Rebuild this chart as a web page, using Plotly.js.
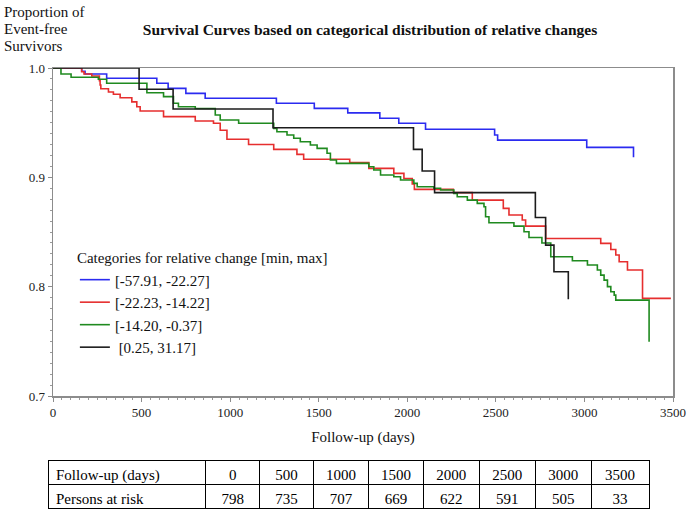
<!DOCTYPE html>
<html>
<head>
<meta charset="utf-8">
<script src="https://cdn.plot.ly/plotly-3.0.1.min.js"></script>
<style>html,body{margin:0;padding:0;background:#fff;}#chart{width:692px;height:522px;}</style>
</head>
<body>
<div id="chart"></div>
<script>
// ---- data ----
const seriesNames = ["[-57.91, -22.27]", "[-22.23, -14.22]", "[-14.20, -0.37]", "\u00a0[0.25, 31.17]"];

const blueDays = [0, 162, 181, 303, 586, 650, 750, 859, 1261, 1475, 1664, 1845, 1952, 2103, 2493, 2510, 3013, 3277];
const blueSurv = [1.0, 0.997, 0.9945, 0.9906, 0.986, 0.9814, 0.9768, 0.9723, 0.9677, 0.9631, 0.959, 0.954, 0.9494, 0.944, 0.9387, 0.934, 0.9274, 0.9183];

const redDays = [0, 162, 175, 219, 262, 266, 270, 313, 341, 379, 445, 473, 492, 624, 803, 906, 944, 982, 1104, 1246, 1377, 1415, 1675, 1783, 1924, 1981, 2028, 2040, 2260, 2367, 2542, 2574, 2649, 2668, 2781, 3092, 3149, 3177, 3196, 3243, 3328, 3488];
const redSurv = [1.0, 0.9966, 0.9945, 0.9927, 0.9884, 0.9845, 0.981, 0.978, 0.976, 0.9728, 0.969, 0.9646, 0.9607, 0.9555, 0.9515, 0.9494, 0.943, 0.9348, 0.930, 0.9256, 0.921, 0.9165, 0.9135, 0.9082, 0.9036, 0.899, 0.894, 0.889, 0.886, 0.8792, 0.8716, 0.8655, 0.861, 0.8554, 0.844, 0.8396, 0.834, 0.8289, 0.8228, 0.8152, 0.7893, 0.7893];

const greenDays = [0, 45, 102, 256, 303, 530, 624, 680, 708, 803, 916, 944, 1048, 1246, 1264, 1321, 1359, 1396, 1453, 1491, 1547, 1566, 1600, 1783, 1811, 1849, 1924, 1962, 2037, 2056, 2150, 2188, 2263, 2282, 2339, 2395, 2433, 2442, 2461, 2602, 2659, 2687, 2760, 2810, 2932, 3017, 3073, 3092, 3111, 3130, 3149, 3168, 3177, 3365];
const greenSurv = [1.0, 0.9945, 0.9915, 0.9897, 0.986, 0.9774, 0.9738, 0.9677, 0.9646, 0.963, 0.957, 0.9524, 0.9494, 0.9448, 0.9417, 0.9387, 0.9357, 0.9326, 0.9296, 0.9265, 0.922, 0.9158, 0.9128, 0.9097, 0.9067, 0.9021, 0.9006, 0.8975, 0.8945, 0.8914, 0.89, 0.8884, 0.8853, 0.8823, 0.8792, 0.8762, 0.8731, 0.864, 0.8585, 0.8554, 0.8503, 0.845, 0.840, 0.8274, 0.8237, 0.8198, 0.8152, 0.8106, 0.806, 0.80, 0.7954, 0.7923, 0.7877, 0.7496];

const blackDays = [0, 486, 678, 1242, 2035, 2084, 2154, 2723, 2781, 2828, 2909];
const blackSurv = [1.0, 0.9805, 0.9625, 0.9454, 0.9256, 0.9058, 0.886, 0.8632, 0.838, 0.8136, 0.7884];

const tableRowLabels = ["Follow-up (days)", "Persons at risk"];
const followUpDays = [0, 500, 1000, 1500, 2000, 2500, 3000, 3500];
const personsAtRisk = [798, 735, 707, 669, 622, 591, 505, 33];

const yLabelLines = ["Proportion of", "Event-free", "Survivors"];

// ---- styles ----
const SERIF = "Liberation Serif, Times New Roman, serif";
const colors = ["#2b2bf0", "#e62e2e", "#1f8a1f", "#1c1c1c"];
const xs = [blueDays, redDays, greenDays, blackDays];
const ys = [blueSurv, redSurv, greenSurv, blackSurv];

const traces = xs.map((x, i) => ({
  type: "scatter", mode: "lines", x: x, y: ys[i],
  name: seriesNames[i], legendgroup: "g" + i,
  line: {shape: "hv", color: colors[i], width: 1.6},
  hoverinfo: "skip"
}));

traces.push({
  type: "table",
  domain: {x: [0, 0.963], y: [0, 0.111]},
  columnwidth: [158, 54, 54, 55, 55, 56, 56, 56, 58],
  header: {
    values: [[tableRowLabels[0]]].concat(followUpDays.map(v => [String(v)])),
    align: ["left"].concat(followUpDays.map(() => "center")),
    height: 24,
    line: {color: "#000", width: 1},
    fill: {color: "#fff"},
    font: {family: SERIF, size: 15, color: "#000"}
  },
  cells: {
    values: [[tableRowLabels[1]]].concat(personsAtRisk.map(v => [String(v)])),
    align: ["left"].concat(personsAtRisk.map(() => "center")),
    height: 24,
    line: {color: "#000", width: 1},
    fill: {color: "#fff"},
    font: {family: SERIF, size: 15, color: "#000"}
  }
});

const axisCommon = {
  showline: true, linecolor: "#8c8c8c", linewidth: 1.5, mirror: true,
  ticks: "outside", ticklen: 4, tickcolor: "#8c8c8c", tickwidth: 1,
  showgrid: false, zeroline: false,
  tickfont: {family: SERIF, size: 13, color: "#222"}
};

const layout = {
  width: 692, height: 522,
  margin: {l: 48, r: 19, t: 68, b: 12},
  paper_bgcolor: "#fff", plot_bgcolor: "#fff",
  font: {family: SERIF, color: "#111"},
  title: {
    text: "Survival Curves based on categorical distribution of relative changes",
    font: {family: SERIF, size: 15.5, color: "#111", weight: "bold"},
    x: 370 / 692, xref: "container", xanchor: "center",
    y: 1 - 30 / 522, yref: "container", yanchor: "middle"
  },
  xaxis: Object.assign({}, axisCommon, {
    domain: [0.008, 1], range: [0, 3500], tick0: 0, dtick: 500,
    minor: {dtick: 50, ticks: "outside", ticklen: 2, tickcolor: "#999", showgrid: false},
    title: {text: "Follow-up (days)", font: {family: SERIF, size: 15, color: "#111"}, standoff: 12}
  }),
  yaxis: Object.assign({}, axisCommon, {
    domain: [0.2579, 1], range: [0.7, 1.0], tick0: 0.7, dtick: 0.1, tickformat: ".1f",
    minor: {dtick: 0.01, ticks: "outside", ticklen: 2, tickcolor: "#999", showgrid: false}
  }),
  showlegend: true,
  legend: {
    x: 0.043, y: 0.602, xanchor: "left", yanchor: "top",
    bgcolor: "rgba(0,0,0,0)", borderwidth: 0,
    font: {family: SERIF, size: 15, color: "#111"},
    title: {text: "Categories for relative change [min, max]", font: {family: SERIF, size: 15, color: "#111"}},
    tracegroupgap: 0, itemwidth: 30
  },
  annotations: yLabelLines.map((t, i) => ({
    text: t,
    xref: "paper", yref: "paper", x: -0.0736, y: 1 + (68 - (12 + 17 * i)) / 442,
    xanchor: "left", yanchor: "middle", align: "left", showarrow: false,
    font: {family: SERIF, size: 15, color: "#111"}
  }))
};

Plotly.newPlot("chart", traces, layout, {displayModeBar: false, staticPlot: true});
</script>
</body>
</html>
